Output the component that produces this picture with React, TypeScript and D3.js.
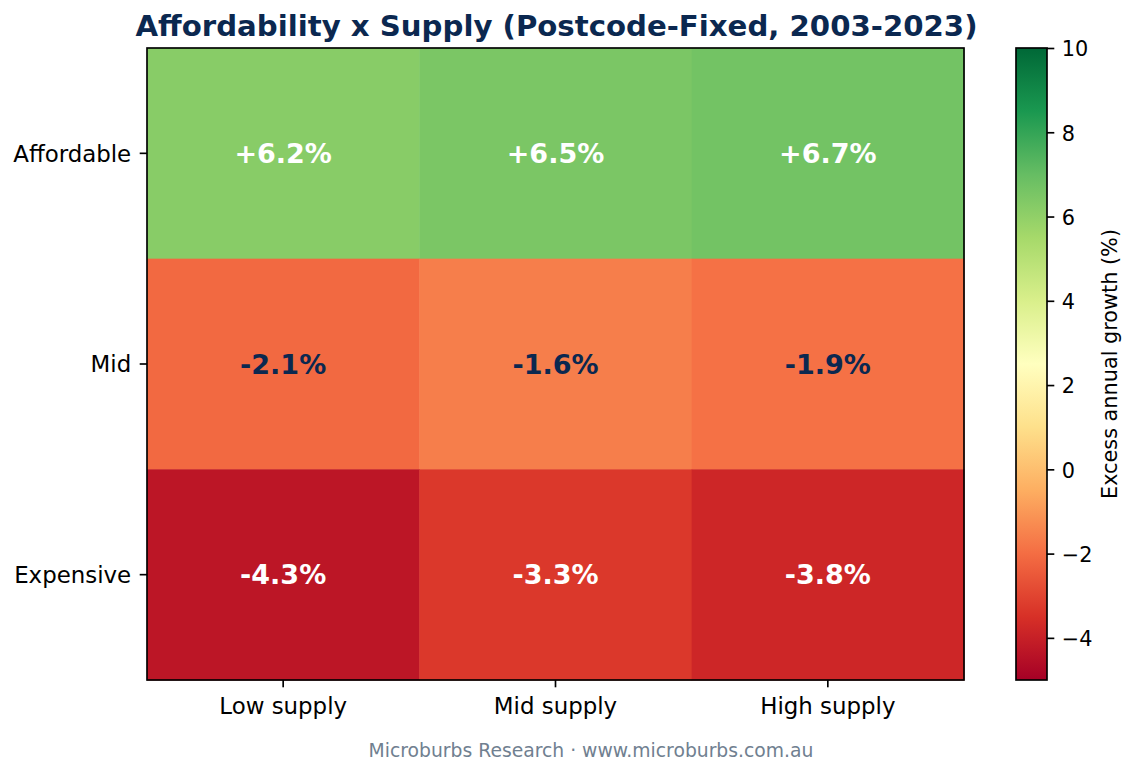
import React, { useEffect, useRef } from 'react';
import * as d3 from 'd3';

// data
const rowLabels = ['Affordable', 'Mid', 'Expensive'];
const colLabels = ['Low supply', 'Mid supply', 'High supply'];
const affordableRow = [6.2, 6.5, 6.7];
const midRow = [-2.1, -1.6, -1.9];
const expensiveRow = [-4.3, -3.3, -3.8];
const cbarTicks = [-4, -2, 0, 2, 4, 6, 8, 10];
const colorDomain = [-5, 10];

// matplotlib RdYlGn (linear segments)
const rdylgn = ['#a50026', '#d73027', '#f46d43', '#fdae61', '#fee08b', '#ffffbf', '#d9ef8b', '#a6d96a', '#66bd63', '#1a9850', '#006837'];

const NAVY = '#0b2850';
const FONT = '"DejaVu Sans", sans-serif';

const W = 1136, H = 775;
const plot = { x0: 147, x1: 964, y0: 48, y1: 680 };
const cbar = { x0: 1016, x1: 1047, y0: 48, y1: 680 };

export default function App() {
  const ref = useRef<SVGSVGElement | null>(null);

  useEffect(() => {
    const svg = d3.select(ref.current);
    svg.selectAll('*').remove();

    const values = [affordableRow, midRow, expensiveRow];
    const cells = values.flatMap((row, r) => row.map((v, c) => ({ r, c, v })));

    const x = d3.scaleBand<string>().domain(colLabels).range([plot.x0, plot.x1]);
    const y = d3.scaleBand<string>().domain(rowLabels).range([plot.y0, plot.y1]);

    const stops = d3.range(rdylgn.length).map(i => colorDomain[0] + (i / (rdylgn.length - 1)) * (colorDomain[1] - colorDomain[0]));
    const color = d3.scaleLinear<string>().domain(stops).range(rdylgn).interpolate(d3.interpolateRgb).clamp(true);

    // title
    svg.append('text')
      .attr('x', (plot.x0 + plot.x1) / 2 + 1).attr('y', 36)
      .attr('text-anchor', 'middle')
      .style('font-family', FONT).style('font-size', '29.2px').style('font-weight', 'bold')
      .attr('fill', NAVY)
      .text('Affordability x Supply (Postcode-Fixed, 2003-2023)');

    // cells
    svg.append('g').selectAll('rect').data(cells).join('rect')
      .attr('x', d => x(colLabels[d.c])!)
      .attr('y', d => y(rowLabels[d.r])!)
      .attr('width', x.bandwidth() + 0.5)
      .attr('height', y.bandwidth() + 0.5)
      .attr('fill', d => color(d.v));

    svg.append('g').selectAll('text').data(cells).join('text')
      .attr('x', d => x(colLabels[d.c])! + x.bandwidth() / 2)
      .attr('y', d => y(rowLabels[d.r])! + y.bandwidth() / 2)
      .attr('dy', '0.36em')
      .attr('text-anchor', 'middle')
      .style('font-family', FONT).style('font-size', '27px').style('font-weight', 'bold')
      .attr('fill', d => Math.abs(d.v) > 3 ? '#ffffff' : NAVY)
      .text(d => (d.v > 0 ? '+' : '') + d.v.toFixed(1) + '%');

    // frame
    svg.append('rect')
      .attr('x', plot.x0).attr('y', plot.y0)
      .attr('width', plot.x1 - plot.x0).attr('height', plot.y1 - plot.y0)
      .attr('fill', 'none').attr('stroke', '#000').attr('stroke-width', 1.67);

    // x axis
    const xa = svg.append('g').attr('transform', `translate(0,${plot.y1})`)
      .call(d3.axisBottom(x).tickSize(7.3).tickPadding(10.5));
    xa.select('.domain').remove();
    xa.selectAll('line').attr('stroke', '#000').attr('stroke-width', 1.67);
    xa.selectAll('text').style('font-family', FONT).style('font-size', '22.9px').attr('fill', '#000');

    // y axis
    const ya = svg.append('g').attr('transform', `translate(${plot.x0},0)`)
      .call(d3.axisLeft(y).tickSize(7.3).tickPadding(8.5));
    ya.select('.domain').remove();
    ya.selectAll('line').attr('stroke', '#000').attr('stroke-width', 1.67);
    ya.selectAll('text').attr('dy', '0.36em').style('font-family', FONT).style('font-size', '22.9px').attr('fill', '#000');

    // colorbar
    const cy = d3.scaleLinear().domain(colorDomain).range([cbar.y1, cbar.y0]);
    const defs = svg.append('defs');
    const grad = defs.append('linearGradient').attr('id', 'cbarGrad')
      .attr('x1', '0%').attr('x2', '0%').attr('y1', '100%').attr('y2', '0%');
    grad.selectAll('stop').data(rdylgn).join('stop')
      .attr('offset', (d, i) => `${(i / (rdylgn.length - 1)) * 100}%`)
      .attr('stop-color', d => d);
    svg.append('rect')
      .attr('x', cbar.x0).attr('y', cbar.y0)
      .attr('width', cbar.x1 - cbar.x0).attr('height', cbar.y1 - cbar.y0)
      .attr('fill', 'url(#cbarGrad)')
      .attr('stroke', '#000').attr('stroke-width', 1.67);

    const ca = svg.append('g').attr('transform', `translate(${cbar.x1},0)`)
      .call(d3.axisRight(cy).tickValues(cbarTicks).tickSize(7.3).tickPadding(7.5).tickFormat(d => d3.format('d')(d as number).replace('-', '\u2212')));
    ca.select('.domain').remove();
    ca.selectAll('line').attr('stroke', '#000').attr('stroke-width', 1.67);
    ca.selectAll('text').attr('dy', '0.38em').style('font-family', FONT).style('font-size', '20.8px').attr('fill', '#000');

    svg.append('text')
      .attr('transform', `translate(1117,${(cbar.y0 + cbar.y1) / 2}) rotate(-90)`)
      .attr('text-anchor', 'middle')
      .style('font-family', FONT).style('font-size', '20.8px')
      .attr('fill', '#000')
      .text('Excess annual growth (%)');

    // footer
    svg.append('text')
      .attr('x', 591).attr('y', 757)
      .attr('text-anchor', 'middle')
      .style('font-family', FONT).style('font-size', '18.75px')
      .attr('fill', '#708090')
      .text('Microburbs Research \u00b7 www.microburbs.com.au');
  }, []);

  return (
    <svg ref={ref} width={W} height={H} style={{ display: 'block', position: 'absolute', left: 0, top: 0, background: '#fff' }} />
  );
}
